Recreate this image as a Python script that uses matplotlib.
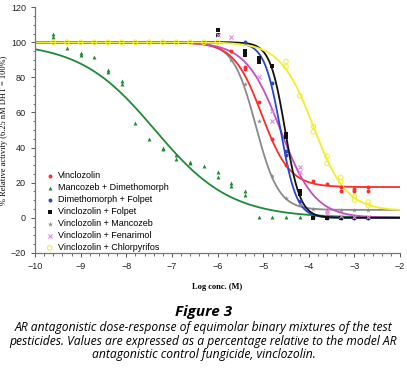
import numpy as np
import matplotlib.pyplot as plt
from matplotlib.ticker import MultipleLocator

# log concentration (M) and % relative activity
vin_x = [-5.7, -5.4, -5.4, -5.1, -4.8, -4.5, -3.9, -3.6, -3.3, -3.3, -3.0, -3.0, -2.7, -2.7]
vin_y = [95, 86, 85, 66, 45, 30, 21, 19, 17.5, 15.5, 16.5, 15, 17.5, 15.5]

mdm_x = [-9.6, -9.6, -9.3, -9.0, -9.0, -8.7, -8.4, -8.4, -8.1, -8.1, -7.8, -7.5, -7.2, -7.2,
         -6.9, -6.9, -6.6, -6.6, -6.3, -6.0, -6.0, -5.7, -5.7, -5.4, -5.4, -5.1, -4.8, -4.5, -4.2]
mdm_y = [104.5, 103, 96.5, 94, 93, 91.5, 84, 83, 78, 76, 54, 45, 40, 39,
         36, 33.5, 32, 31, 29.5, 26, 23, 20, 18, 15, 13, 0.5, 0.5, 0.5, 0.5]

dmf_x = [-5.4, -4.8, -4.5, -4.5, -4.2, -3.9, -3.6, -3.3, -3.0, -2.7]
dmf_y = [100, 77, 38, 36, 9.5, 0.5, 0, 0, 0, 0]

vf_x = [-6.0, -6.0, -5.4, -5.4, -5.1, -5.1, -4.8, -4.5, -4.5, -4.2, -4.2, -3.9, -3.6, -3.3, -3.0, -2.7]
vf_y = [107, 104, 95, 93, 91, 89, 86.5, 47.5, 46, 15.5, 13.5, 0, 0, 0, 0, 0]

vm_x = [-5.7, -5.4, -5.1, -4.8, -4.5, -4.2, -3.9, -3.6, -3.3, -3.0, -2.7]
vm_y = [90, 76.5, 55, 24, 11.5, 7, 5, 4.5, 4.5, 4.5, 4.5]

vfe_x = [-6.0, -5.7, -5.1, -4.8, -4.8, -4.2, -4.2, -3.6, -3.6, -3.3, -3.0, -2.7]
vfe_y = [104, 103, 80.5, 61, 55, 29, 26, 4, 3, 1, 0.5, 0.5]

vc_x = [-9.6, -9.3, -9.0, -8.7, -8.4, -8.1, -7.8, -7.5, -7.2, -6.9, -6.6, -6.3, -6.0,
        -4.5, -4.5, -4.2, -3.9, -3.9, -3.6, -3.6, -3.3, -3.3, -3.0, -3.0, -2.7, -2.7]
vc_y = [100, 100, 100, 100, 100, 100, 100, 100, 100, 100, 100, 100, 100,
        89, 86, 69.5, 52, 49, 35, 31, 23, 20.5, 12, 10, 9, 7]

labels = ["Vinclozolin", "Mancozeb + Dimethomorph", "Dimethomorph + Folpet",
          "Vinclozolin + Folpet", "Vinclozolin + Mancozeb", "Vinclozolin + Fenarimol",
          "Vinclozolin + Chlorpyrifos"]

# fitted sigmoid parameters: top, bottom, log IC50, hill slope
fit_top = [100, 100, 100, 100, 100, 100, 100]
fit_bottom = [17.5, 0, 0, 0, 4.5, 0, 4]
fit_logic50 = [-5.03, -7.37, -4.62, -4.52, -5.16, -4.62, -3.9]
fit_hill = [1.42, 0.526, 2.46, 2.63, 1.74, 1.15, 1.2]

colors = ["#ff2a2a", "#1f8a35", "#2a46c8", "#111111", "#8a8a8a", "#c050c0", "#f2ee2a"]
markers = ["o", "^", "o", "s", "*", "x", "o"]
xs = [vin_x, mdm_x, dmf_x, vf_x, vm_x, vfe_x, vc_x]
ys = [vin_y, mdm_y, dmf_y, vf_y, vm_y, vfe_y, vc_y]

fig = plt.figure(figsize=(4.07, 3.78), dpi=100)
ax = fig.add_axes([0.086, 0.331, 0.897, 0.65])

xx = np.linspace(-10, -2, 400)
order = [1, 4, 0, 5, 2, 3, 6]
for i in order:
    fit = fit_bottom[i] + (fit_top[i] - fit_bottom[i]) / (1 + 10 ** ((xx - fit_logic50[i]) * fit_hill[i]))
    ax.plot(xx, fit, color=colors[i], lw=1.3, zorder=2)

handles = []
for i in range(7):
    if i == 6:
        h = ax.scatter(xs[i], ys[i], s=11, marker="o", facecolors="none",
                       edgecolors=colors[i], linewidths=0.7, zorder=3, label=labels[i])
    elif i == 5:
        h = ax.scatter(xs[i], ys[i], s=9, marker="x", color="#e08ae0",
                       linewidths=0.8, zorder=3, label=labels[i])
    elif i == 4:
        h = ax.scatter(xs[i], ys[i], s=14, marker="*", color=colors[i],
                       linewidths=0, zorder=3, label=labels[i])
    else:
        h = ax.scatter(xs[i], ys[i], s=8, marker=markers[i], color=colors[i],
                       linewidths=0, zorder=3, label=labels[i])
    handles.append(h)

ax.set_xlim(-10, -2)
ax.set_ylim(-20, 120)
ax.xaxis.set_major_locator(MultipleLocator(1))
ax.xaxis.set_minor_locator(MultipleLocator(0.2))
ax.yaxis.set_major_locator(MultipleLocator(20))
ax.yaxis.set_minor_locator(MultipleLocator(5))
for s in ["top", "right"]:
    ax.spines[s].set_visible(False)
for s in ["left", "bottom"]:
    ax.spines[s].set_color("#777777")
    ax.spines[s].set_linewidth(0.9)
ax.tick_params(which="both", colors="#555555", labelcolor="#222222",
               labelsize=6.5, direction="out")
ax.tick_params(which="major", length=3, width=0.7)
ax.tick_params(which="minor", length=1.8, width=0.6)
for t in ax.get_xticklabels() + ax.get_yticklabels():
    t.set_family("Liberation Sans")

ax.set_xlabel("Log conc. (M)", family="Liberation Serif", fontsize=6, weight="bold",
              labelpad=9)
ax.set_ylabel("% Relative activity (6.25 nM DHT = 100%)", family="Liberation Serif",
              fontsize=6, labelpad=2)

leg = ax.legend(handles=handles, loc="lower left", bbox_to_anchor=(0.008, -0.023),
                frameon=False, handletextpad=0.3, labelspacing=0.33,
                markerscale=1.0, handlelength=1.2, borderaxespad=0.3,
                prop={"family": "Liberation Sans", "size": 6.5})

fig.text(0.5, 1 - 312 / 378, "Figure 3", ha="center", va="center",
         fontsize=11, style="italic", weight="bold", family="Open Sans")
caption = ("AR antagonistic dose-response of equimolar binary mixtures of the test\n"
           "pesticides. Values are expressed as a percentage relative to the model AR\n"
           "antagonistic control fungicide, vinclozolin.")
fig.text(0.5, 1 - 341 / 378, caption, ha="center", va="center", fontsize=8.75,
         style="italic", family="Open Sans", linespacing=1.08)

fig.savefig("out.png", dpi=100)
